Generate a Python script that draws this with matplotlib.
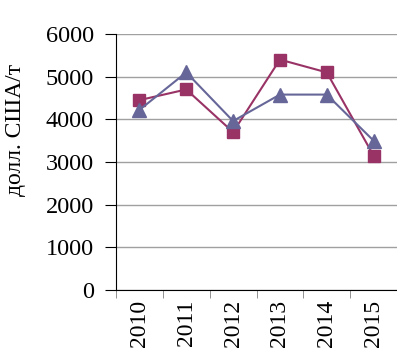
import matplotlib
matplotlib.use("Agg")
import matplotlib.pyplot as plt
import numpy as np

years = ["2010", "2011", "2012", "2013", "2014", "2015"]
squares = [4450, 4700, 3700, 5400, 5100, 3150]
triangles = [4220, 5100, 3960, 4580, 4580, 3500]

plt.rcParams['font.family'] = ['Liberation Serif']

fig = plt.figure(figsize=(3.97, 3.55), dpi=100)
ax = fig.add_axes([116 / 397, 1 - 290 / 355, 281 / 397, 256 / 355])

x = np.arange(len(years))
ax.plot(x, squares, color='#993366', marker='s', markersize=8.5, linewidth=1.5, zorder=3)
ax.plot(x, triangles, color='#666699', marker='^', markersize=10, linewidth=1.5, zorder=3)

ax.set_xlim(-0.5, len(years) - 0.5)
ax.set_ylim(0, 6000)
ax.set_yticks(range(0, 6001, 1000))
ax.yaxis.grid(True, color='#a0a0a0', linewidth=1)
ax.set_axisbelow(True)

ax.set_xticks(x)
ax.set_xticklabels(years, rotation=90, fontsize=17)
ax.set_xticks(np.arange(-0.5, len(years)), minor=True)
ax.tick_params(axis='x', which='major', length=0, pad=7)
ax.tick_params(axis='x', which='minor', length=6, direction='out', color='#808080')
ax.tick_params(axis='y', labelsize=17.5, length=8, direction='out', pad=8)

ax.spines['top'].set_visible(False)
ax.spines['right'].set_visible(False)
ax.set_ylabel('долл. США/т', fontsize=17, va='center')
ax.yaxis.set_label_coords((16 - 116) / 281, (290 - 130) / 256)

fig.savefig('out.png', dpi=100)
